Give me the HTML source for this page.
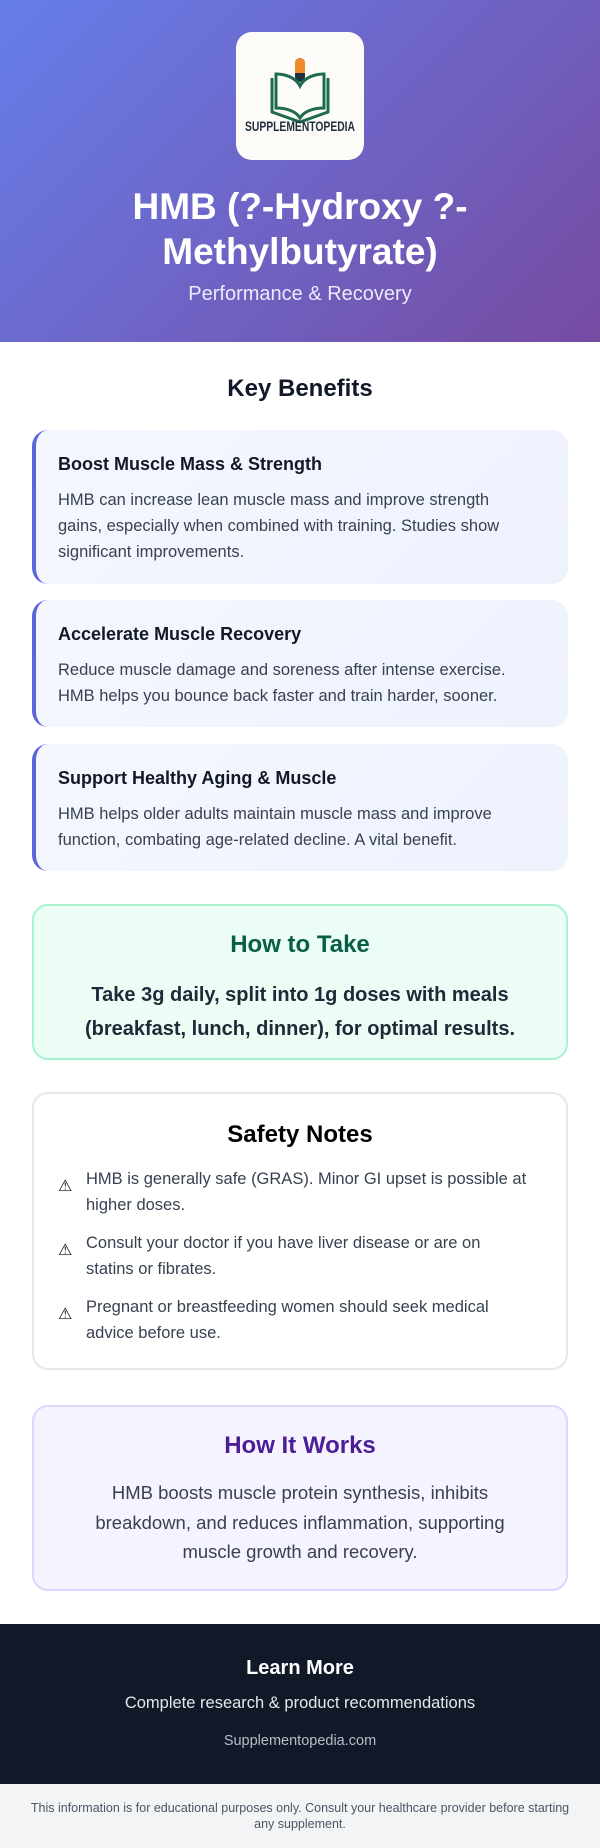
<!DOCTYPE html>
<html><head><meta charset="utf-8"><style>
*{box-sizing:border-box;margin:0;padding:0}
body{width:600px;height:1848px;font-family:"Liberation Sans",sans-serif;background:#fff;position:relative;overflow:hidden;color:#111827}
.abs{position:absolute}
.c{left:0;width:600px;text-align:center}
.card{position:absolute;left:32px;width:536px;border-radius:16px}
.ben{background:linear-gradient(135deg,#f5f7ff,#eef2fd);border-left:4px solid #5a67d8}
.ben h3{position:absolute;left:22px;font-size:18px;font-weight:bold;color:#111827}
.ben p{position:absolute;left:22px;width:462px;font-size:16.5px;line-height:26px;color:#374151}
.li{position:absolute;left:52px;width:442px;font-size:16.5px;line-height:26px;color:#374151}
.ic{position:absolute;left:24px;font-size:16px;color:#111}
</style></head><body>
<div class="abs" style="left:0;top:0;width:600px;height:342px;background:linear-gradient(135deg,#667eea,#764ba2)"></div>
<div class="abs" style="left:236px;top:32px;width:128px;height:128px;background:#fdfbf8;border-radius:16px">
<svg width="128" height="128" viewBox="0 0 128 128">
<rect x="59" y="26" width="10" height="24" rx="5" fill="#1f3440"/><path d="M59 31a5 5 0 0 1 10 0v10h-10z" fill="#f08a2a"/>
<path d="M36 46v34l28 10 28-10V46" fill="none" stroke="#1d6b4f" stroke-width="3"/>
<path d="M40 42c10 0 20 4 24 12 4-8 14-12 24-12v34c-10 0-20 3-24 10-4-7-14-10-24-10z" fill="none" stroke="#1d6b4f" stroke-width="3"/>
<text x="9" y="99" textLength="110" lengthAdjust="spacingAndGlyphs" font-family="Liberation Sans Narrow,Liberation Sans,sans-serif" font-weight="bold" font-size="14" fill="#1f2d3d">SUPPLEMENTOPEDIA</text></svg></div>
<div class="abs c" style="top:184px;font-size:37px;font-weight:bold;line-height:45px;color:#fff">HMB (?-Hydroxy ?-<br>Methylbutyrate)</div>
<div class="abs c" style="top:283px;font-size:20px;color:#eceafc">Performance &amp; Recovery</div>
<div class="abs c" style="top:375px;font-size:24px;font-weight:bold">Key Benefits</div>
<div class="card ben" style="top:430px;height:154px"><h3 style="top:24px">Boost Muscle Mass &amp; Strength</h3><p style="top:57px">HMB can increase lean muscle mass and improve strength gains, especially when combined with training. Studies show significant improvements.</p></div>
<div class="card ben" style="top:600px;height:127px"><h3 style="top:24px">Accelerate Muscle Recovery</h3><p style="top:57px">Reduce muscle damage and soreness after intense exercise. HMB helps you bounce back faster and train harder, sooner.</p></div>
<div class="card ben" style="top:744px;height:127px"><h3 style="top:24px">Support Healthy Aging &amp; Muscle</h3><p style="top:57px">HMB helps older adults maintain muscle mass and improve function, combating age-related decline. A vital benefit.</p></div>
<div class="card" style="top:904px;height:156px;background:#ecfdf5;border:2px solid #a7f3d0">
<div class="abs" style="left:0;width:532px;top:25px;text-align:center;font-size:24px;font-weight:bold;color:#065f46">How to Take</div>
<div class="abs" style="left:20px;width:492px;top:72px;text-align:center;font-size:20px;font-weight:bold;line-height:34px;color:#1f2937">Take 3g daily, split into 1g doses with meals (breakfast, lunch, dinner), for optimal results.</div></div>
<div class="card" style="top:1092px;height:278px;border:2px solid #e5e7eb">
<div class="abs" style="left:0;width:532px;top:27px;text-align:center;font-size:24px;font-weight:bold;color:#000">Safety Notes</div>
<div class="ic" style="top:82px">⚠</div><div class="li" style="top:72px">HMB is generally safe (GRAS). Minor GI upset is possible at higher doses.</div>
<div class="ic" style="top:146px">⚠</div><div class="li" style="top:136px">Consult your doctor if you have liver disease or are on statins or fibrates.</div>
<div class="ic" style="top:210px">⚠</div><div class="li" style="top:200px">Pregnant or breastfeeding women should seek medical advice before use.</div></div>
<div class="card" style="top:1405px;height:186px;background:#f5f3ff;border:2px solid #ddd6fe">
<div class="abs" style="left:0;width:532px;top:25px;text-align:center;font-size:24px;font-weight:bold;color:#4c1d95">How It Works</div>
<div class="abs" style="left:30px;width:472px;top:71px;text-align:center;font-size:18.5px;line-height:29.5px;color:#374151">HMB boosts muscle protein synthesis, inhibits breakdown, and reduces inflammation, supporting muscle growth and recovery.</div></div>
<div class="abs" style="left:0;top:1624px;width:600px;height:160px;background:#111827"></div>
<div class="abs c" style="top:1657px;font-size:20px;font-weight:bold;color:#fff">Learn More</div>
<div class="abs c" style="top:1694px;font-size:16.5px;color:#e5e7eb">Complete research &amp; product recommendations</div>
<div class="abs c" style="top:1733px;font-size:14.5px;color:#b8bdc8">Supplementopedia.com</div>
<div class="abs" style="left:0;top:1784px;width:600px;height:64px;background:#f3f4f6"></div>
<div class="abs c" style="top:1800px;font-size:12.5px;line-height:16px;color:#4b5563;padding:0 24px">This information is for educational purposes only. Consult your healthcare provider before starting any supplement.</div>
</body></html>
